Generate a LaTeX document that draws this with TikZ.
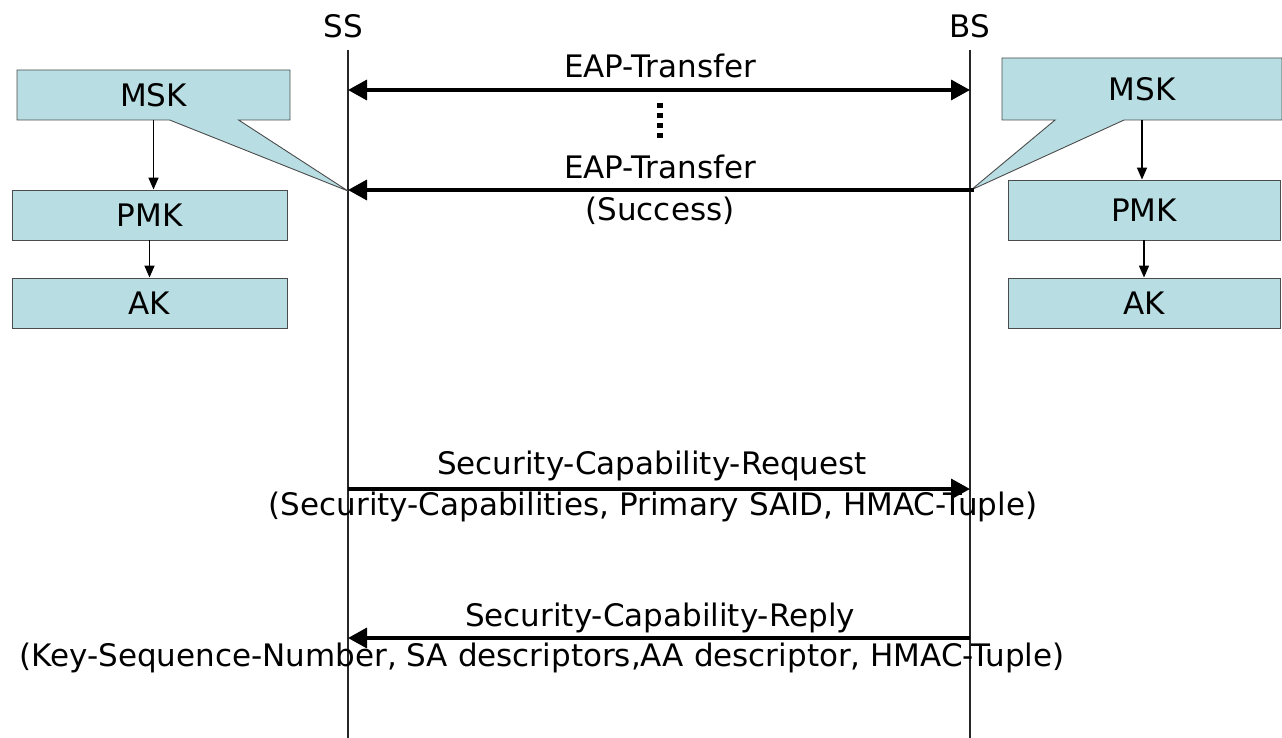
\documentclass[tikz,border=0pt]{standalone}
\usepackage{fontspec}
\setmainfont{DejaVu Sans}
\usetikzlibrary{arrows.meta, shapes.callouts}
\definecolor{keyblue}{RGB}{184,222,227}
\tikzset{lifeline/.style={line width=1.2pt, draw=black!85},
  msg/.style={line width=3.5pt, >={Triangle[length=19pt,width=20pt]}, ->},
  derive/.style={line width=1.6pt, >={Triangle[length=12pt,width=10pt]}, ->},
  keybox/.style={draw=black!70, fill=keyblue, line width=0.9pt, minimum width=275pt, minimum height=50pt, inner sep=0pt},
  lbl/.style={inner sep=0pt}}

\begin{document}
\begin{tikzpicture}[x=1pt, y=-1pt, every node/.style={font=\fontsize{31}{36}\selectfont}]
	\useasboundingbox (0,0) rectangle (1282,738);
	% lifelines
	\node[lbl] (ss) at (343,26) {SS};
	\node[lbl] (bs) at (970,26) {BS};
	\coordinate (sstop) at (348,50);
	\coordinate (ssbot) at (348,738);
	\coordinate (bstop) at (970,50);
	\coordinate (bsbot) at (970,738);
	\draw[lifeline] (sstop) -- (ssbot);
	\draw[lifeline] (bstop) -- (bsbot);
	% key hierarchy, SS side
	\coordinate (lp) at (348,191);
	\node[keybox, rectangle callout, callout absolute pointer={(lp)}, callout pointer width=69pt, minimum width=273pt] (lmsk) at (153.5,95) {MSK};
	\node[keybox] (lpmk) at (149.5,215) {PMK};
	\node[keybox] (lak) at (149.5,303) {AK};
	\draw[derive] (lmsk.south) -- (lmsk.south |- lpmk.north);
	\draw[derive] (lpmk.south) -- (lak.north);
	% key hierarchy, BS side
	\coordinate (rp) at (971,190);
	\node[keybox, rectangle callout, callout absolute pointer={(rp)}, callout pointer width=69pt, minimum width=280pt, minimum height=62pt] (rmsk) at (1142,89) {MSK};
	\node[keybox, minimum width=272pt, minimum height=60pt] (rpmk) at (1144,210) {PMK};
	\node[keybox, minimum width=272pt] (rak) at (1144,303) {AK};
	\draw[derive] (rmsk.south) -- (rmsk.south |- rpmk.north);
	\draw[derive] (rpmk.south) -- (rak.north);
	% EAP exchange
	\coordinate (ss1) at (348,90);
	\coordinate (bs1) at (970,90);
	\coordinate (ss2) at (348,190);
	\coordinate (bs2) at (974,190);
	\coordinate (dtop) at (660,103);
	\coordinate (dbot) at (660,141);
	\draw[msg, <->] (ss1) -- (bs1);
	\draw[line width=6pt, dash pattern=on 5pt off 5pt] (dtop) -- (dbot);
	\draw[msg] (bs2) -- (ss2);
	\node[lbl] (eap1) at (660,66) {EAP-Transfer};
	\node[lbl] (eap2) at (660,167) {EAP-Transfer};
	\node[lbl] (succ) at (660,211) {(Success)};
	% security capabilities
	\coordinate (ss3) at (348,489);
	\coordinate (bs3) at (970,489);
	\coordinate (ss4) at (348,638);
	\coordinate (bs4) at (970,638);
	\draw[msg] (ss3) -- (bs3);
	\draw[msg] (bs4) -- (ss4);
	\node[lbl] (req) at (652,466) {Security-Capability-Request};
	\node[lbl] (reqa) at (653,507) {(Security-Capabilities, Primary SAID, HMAC-Tuple)};
	\node[lbl] (rep) at (660,618) {Security-Capability-Reply};
	\node[lbl] (repa) at (542,658) {(Key-Sequence-Number, SA descriptors,AA descriptor, HMAC-Tuple)};
\end{tikzpicture}
\end{document}
